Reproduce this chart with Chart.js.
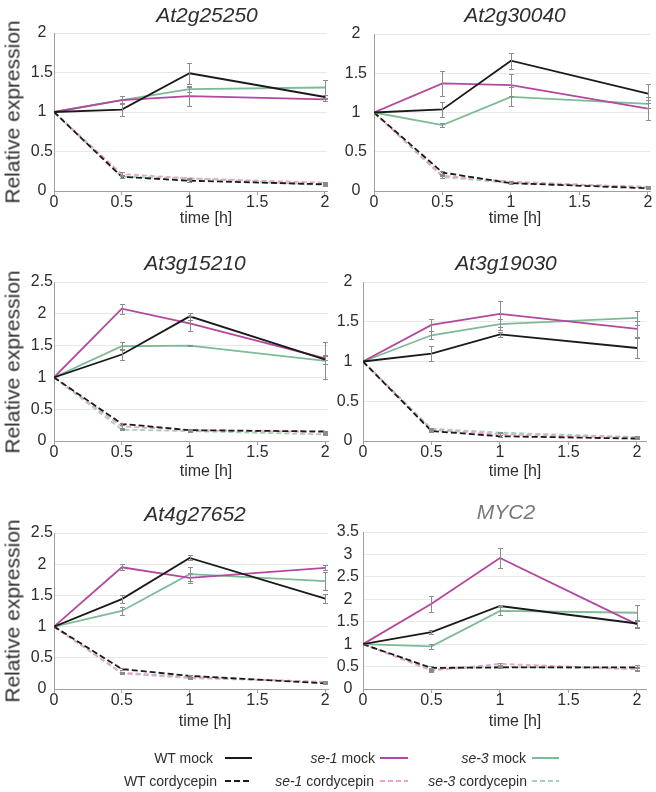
<!DOCTYPE html>
<html>
<head>
<meta charset="utf-8">
<script src="https://cdn.jsdelivr.net/npm/chart.js@4.4.1/dist/chart.umd.min.js"></script>
<style>
  body { margin: 0; background: #fff; }
  #page { position: relative; width: 656px; height: 792px; overflow: hidden; font-family: "Liberation Sans", Arial, sans-serif; color: #2e2e2e; }
  canvas { position: absolute; }
  .lbl { position: absolute; transform: translate(-50%, -50%); white-space: nowrap; line-height: 1; }
  .title { font-size: 21px; font-style: italic; }
  .xt { font-size: 16px; }
  .yt { font-size: 21px; transform: translate(-50%, -50%) rotate(-90deg); }
  .leg { position: absolute; font-size: 14px; line-height: 1; white-space: nowrap; transform: translate(-100%, -50%); }
  #legendLines { position: absolute; left: 0; top: 0; }
</style>
</head>
<body>
<div id="page"></div>
<script>
// sampling times and axis ticks
const times = [0, 0.5, 1, 2];
const xTicks = [0, 0.5, 1, 1.5, 2];
const genes = ['At2g25250', 'At2g30040', 'At3g15210', 'At3g19030', 'At4g27652', 'MYC2'];
const yMax = [2, 2, 2.5, 2, 2.5, 3.5];

// relative expression, one row per gene
const wtMock = [
  [1, 1.03, 1.49, 1.19],
  [1, 1.04, 1.66, 1.24],
  [1, 1.36, 1.96, 1.28],
  [1, 1.10, 1.34, 1.17],
  [1, 1.44, 2.10, 1.45],
  [1, 1.27, 1.85, 1.46]
];
const se1Mock = [
  [1, 1.15, 1.20, 1.16],
  [1, 1.37, 1.35, 1.05],
  [1, 2.08, 1.85, 1.30],
  [1, 1.46, 1.60, 1.41],
  [1, 1.95, 1.78, 1.94],
  [1, 1.90, 2.92, 1.44]
];
const se3Mock = [
  [1, 1.15, 1.29, 1.31],
  [1, 0.84, 1.20, 1.11],
  [1, 1.49, 1.50, 1.26],
  [1, 1.33, 1.47, 1.55],
  [1, 1.25, 1.84, 1.73],
  [1, 0.95, 1.74, 1.70]
];
const wtCord = [
  [1, 0.18, 0.13, 0.085],
  [1, 0.235, 0.10, 0.035],
  [1, 0.27, 0.17, 0.15],
  [1, 0.125, 0.06, 0.03],
  [1, 0.32, 0.21, 0.09],
  [1, 0.47, 0.48, 0.48]
];
const se1Cord = [
  [1, 0.215, 0.16, 0.105],
  [1, 0.195, 0.12, 0.045],
  [1, 0.23, 0.17, 0.14],
  [1, 0.14, 0.085, 0.04],
  [1, 0.26, 0.19, 0.11],
  [1, 0.41, 0.56, 0.44]
];
const se3Cord = [
  [1, 0.18, 0.16, 0.075],
  [1, 0.18, 0.10, 0.055],
  [1, 0.18, 0.155, 0.105],
  [1, 0.155, 0.105, 0.05],
  [1, 0.25, 0.175, 0.115],
  [1, 0.44, 0.50, 0.45]
];

// standard errors
const wtMockErr = [
  [0, 0.08, 0.13, 0.03],
  [0, 0.10, 0.10, 0.12],
  [0, 0.08, 0.06, 0.07],
  [0, 0.09, 0.03, 0.13],
  [0, 0.06, 0.04, 0.07],
  [0, 0.05, 0.03, 0.08]
];
const se1MockErr = [
  [0, 0.05, 0.12, 0.02],
  [0, 0.16, 0.14, 0.15],
  [0, 0.08, 0.12, 0.03],
  [0, 0.08, 0.16, 0.10],
  [0, 0.05, 0.08, 0.04],
  [0, 0.18, 0.23, 0.08]
];
const se3MockErr = [
  [0, 0.05, 0.04, 0.09],
  [0, 0.03, 0.12, 0.05],
  [0, 0.06, 0.01, 0.29],
  [0, 0.05, 0.07, 0.09],
  [0, 0.06, 0.11, 0.14],
  [0, 0.05, 0.10, 0.18]
];
const wtCordErr = [
  [0, 0.02, 0.01, 0.01],
  [0, 0.02, 0.01, 0.01],
  [0, 0.02, 0.02, 0.01],
  [0, 0.01, 0.01, 0.01],
  [0, 0.02, 0.01, 0.01],
  [0, 0.05, 0.02, 0.05]
];
const se1CordErr = [
  [0, 0.02, 0.01, 0.01],
  [0, 0.01, 0.01, 0.01],
  [0, 0.02, 0.01, 0.02],
  [0, 0.01, 0.01, 0.01],
  [0, 0.01, 0.01, 0.01],
  [0, 0.04, 0.03, 0.03]
];
const se3CordErr = [
  [0, 0.01, 0.01, 0.01],
  [0, 0.01, 0.01, 0.01],
  [0, 0.01, 0.01, 0.01],
  [0, 0.01, 0.01, 0.01],
  [0, 0.01, 0.01, 0.01],
  [0, 0.03, 0.02, 0.03]
];

const seriesNames = ['WT mock', 'se-1 mock', 'se-3 mock', 'WT cordycepin', 'se-1 cordycepin', 'se-3 cordycepin'];

// where each panel sits on the page
const panels = [
  { cx: 0,   cw: 340, left: 54,  right: 327, top: 33,  bottom: 191, xMax: 2.015, yPad: 1, title: [207, 14],  xTitle: [206, 218], yTitle: [12, 112] },
  { cx: 330, cw: 326, left: 374, right: 650, top: 33,  bottom: 191, xMax: 2.015, yPad: 7, title: [515, 14],  xTitle: [515, 218] },
  { cx: 0,   cw: 340, left: 54,  right: 328, top: 282, bottom: 441, xMax: 2.02,  yPad: 1, title: [195, 262], xTitle: [206, 471], yTitle: [12, 362] },
  { cx: 330, cw: 326, left: 363, right: 646, top: 282, bottom: 441, xMax: 2.066, yPad: 4, title: [506, 262], xTitle: [515, 471] },
  { cx: 0,   cw: 340, left: 54,  right: 328, top: 533, bottom: 689, xMax: 2.02,  yPad: 1, title: [195, 513], xTitle: [205, 721], yTitle: [12, 611] },
  { cx: 330, cw: 326, left: 363, right: 646, top: 532, bottom: 689, xMax: 2.066, yPad: 4, title: [506, 511], xTitle: [515, 721] }
];

const styles = [
  { color: '#1a1a1a', dash: [] },
  { color: '#b4479e', dash: [] },
  { color: '#7dbb97', dash: [] },
  { color: '#1a1a1a', dash: [6, 3] },
  { color: '#eaa3c9', dash: [5, 3] },
  { color: '#a3d2b6', dash: [5, 3] }
];

const errorBars = {
  id: 'errorBars',
  afterDatasetsDraw(chart) {
    const { ctx, scales: { x, y } } = chart;
    ctx.save();
    ctx.strokeStyle = '#8c8c8c';
    ctx.lineWidth = 1;
    chart.data.datasets.forEach(ds => {
      ds.errors.forEach((e, i) => {
        if (!e) return;
        const px = Math.round(x.getPixelForValue(times[i])) + 0.5;
        const v = ds.data[i].y;
        const y1 = Math.round(y.getPixelForValue(v - e)) + 0.5;
        const y2 = Math.round(y.getPixelForValue(v + e)) + 0.5;
        ctx.beginPath();
        ctx.moveTo(px, y1); ctx.lineTo(px, y2);
        ctx.moveTo(px - 2.5, y1); ctx.lineTo(px + 2.5, y1);
        ctx.moveTo(px - 2.5, y2); ctx.lineTo(px + 2.5, y2);
        ctx.stroke();
      });
    });
    ctx.restore();
  }
};

const page = document.getElementById('page');

function addLabel(cls, text, pos, extra) {
  const d = document.createElement('div');
  d.className = 'lbl ' + cls;
  d.textContent = text;
  d.style.left = pos[0] + 'px';
  d.style.top = pos[1] + 'px';
  if (extra) Object.assign(d.style, extra);
  page.appendChild(d);
  return d;
}

const FONT = '"Liberation Sans", Arial, sans-serif';

panels.forEach((p, gi) => {
  const cy = p.top - 14;
  const ch = p.bottom + 24 - cy;
  const canvas = document.createElement('canvas');
  canvas.width = p.cw;
  canvas.height = ch;
  canvas.style.left = p.cx + 'px';
  canvas.style.top = cy + 'px';
  page.appendChild(canvas);

  const values = [wtMock[gi], se1Mock[gi], se3Mock[gi], wtCord[gi], se1Cord[gi], se3Cord[gi]];
  const errs = [wtMockErr[gi], se1MockErr[gi], se3MockErr[gi], wtCordErr[gi], se1CordErr[gi], se3CordErr[gi]];
  const datasets = values.map((vals, si) => ({
    label: seriesNames[si],
    data: times.map((t, i) => ({ x: t, y: vals[i] })),
    errors: errs[si],
    borderColor: styles[si].color,
    borderDash: styles[si].dash,
    borderWidth: 1.8,
    pointRadius: 0,
    fill: false,
    tension: 0
  }));

  new Chart(canvas, {
    type: 'line',
    data: { datasets },
    options: {
      responsive: false,
      animation: false,
      events: [],
      layout: { padding: { top: p.top - cy, right: p.cx + p.cw - p.right, bottom: 0, left: 0 } },
      plugins: { legend: { display: false }, tooltip: { enabled: false }, title: { display: false } },
      scales: {
        x: {
          type: 'linear',
          min: 0,
          max: p.xMax,
          afterBuildTicks: s => { s.ticks = xTicks.map(v => ({ value: v })); },
          afterFit: s => { s.height = ch - (p.bottom - cy); },
          grid: { drawOnChartArea: false, drawTicks: true, tickLength: 4, tickColor: '#a0a0a0' },
          border: { color: '#a0a0a0' },
          ticks: {
            padding: 0, maxRotation: 0, autoSkip: false, color: '#2e2e2e',
            font: { family: FONT, size: 16, lineHeight: 1 },
            callback: v => String(v)
          }
        },
        y: {
          min: 0,
          max: yMax[gi],
          afterFit: s => { s.width = p.left - p.cx; },
          grid: { color: '#e8e8e8', drawTicks: false },
          border: { color: '#a0a0a0' },
          ticks: {
            stepSize: 0.5, crossAlign: 'center', padding: p.yPad, color: '#2e2e2e',
            font: { family: FONT, size: 16, lineHeight: 1 },
            callback: v => String(v)
          }
        }
      }
    },
    plugins: [errorBars]
  });

  addLabel('title', genes[gi], p.title, gi === 5 ? { color: '#777' } : null);
  addLabel('xt', 'time [h]', p.xTitle);
  if (p.yTitle) addLabel('yt', 'Relative expression', p.yTitle);
});

// legend: text right-aligned, then a line sample
const legendItems = [
  { parts: ['WT mock'],                 textEnd: 213, y: 758, x1: 225, x2: 252, s: 0 },
  { parts: ['se-1', ' mock'],           textEnd: 375, y: 758, x1: 380, x2: 408, s: 1 },
  { parts: ['se-3', ' mock'],           textEnd: 526, y: 758, x1: 532, x2: 559, s: 2 },
  { parts: ['WT cordycepin'],           textEnd: 217, y: 781, x1: 225, x2: 252, s: 3 },
  { parts: ['se-1', ' cordycepin'],     textEnd: 374, y: 781, x1: 380, x2: 408, s: 4 },
  { parts: ['se-3', ' cordycepin'],     textEnd: 527, y: 781, x1: 532, x2: 559, s: 5 }
];
const svgNS = 'http://www.w3.org/2000/svg';
const svg = document.createElementNS(svgNS, 'svg');
svg.setAttribute('id', 'legendLines');
svg.setAttribute('width', 656);
svg.setAttribute('height', 792);
page.appendChild(svg);
legendItems.forEach(it => {
  const d = document.createElement('div');
  d.className = 'leg';
  d.style.left = it.textEnd + 'px';
  d.style.top = it.y + 'px';
  if (it.parts.length > 1) {
    const em = document.createElement('i');
    em.textContent = it.parts[0];
    d.appendChild(em);
    d.appendChild(document.createTextNode(it.parts[1]));
  } else {
    d.textContent = it.parts[0];
  }
  page.appendChild(d);
  const ln = document.createElementNS(svgNS, 'line');
  ln.setAttribute('x1', it.x1);
  ln.setAttribute('x2', it.x2);
  ln.setAttribute('y1', it.y);
  ln.setAttribute('y2', it.y);
  ln.setAttribute('stroke', styles[it.s].color);
  ln.setAttribute('stroke-width', 2);
  if (styles[it.s].dash.length) ln.setAttribute('stroke-dasharray', styles[it.s].dash.join(','));
  svg.appendChild(ln);
});
</script>
</body>
</html>
